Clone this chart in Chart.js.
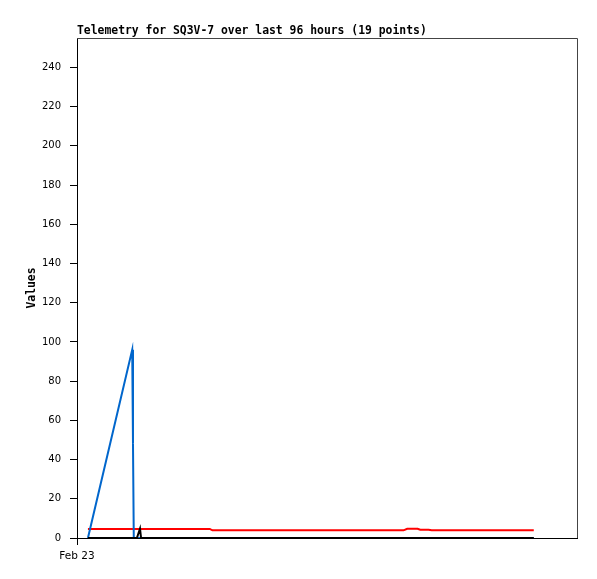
<!DOCTYPE html>
<html>
<head>
<meta charset="UTF-8">
<title>telemetry SQ3V-7</title>
<style>
	body {margin: 0; background: #fff;}
	#wrap {width: 597px; height: 579px;}
</style>
</head>
<body>
	<div id="wrap"><canvas id="myChart" width="597" height="579"></canvas></div>
<script src="https://cdn.jsdelivr.net/npm/chart.js@4"></script>
<script>
	// hours since Feb 23 00:00 (19 points)
	const hours = [2.1, 10.6, 10.75, 10.9, 11.5, 12.1, 12.3, 25.5, 26.0, 62.7, 63.4, 64.0, 65.4, 65.9, 67.5, 68.1, 80.0, 85.0, 87.7];
	const blueValues  = [0, 96, 48, 0, 0, 0, 0, 0, 0, 0, 0, 0, 0, 0, 0, 0, 0, 0, 0];
	const redValues   = [4.6, 4.6, 4.6, 4.6, 4.6, 4.6, 4.6, 4.6, 3.9, 3.9, 4.7, 4.7, 4.7, 4.2, 4.2, 3.9, 3.9, 3.9, 3.9];
	const blackValues = [0, 0, 0, 0, 0, 4.8, 0, 0, 0, 0, 0, 0, 0, 0, 0, 0, 0, 0, 0];
	const xTickLabels = ['Feb 23'];
	const yTicks = [0, 20, 40, 60, 80, 100, 120, 140, 160, 180, 200, 220, 240];
	const titleText = 'Telemetry for SQ3V-7 over last 96 hours (19 points)';

	function pts(vals) {
		return hours.map(function(h, i) { return {x: h, y: vals[i]}; });
	}

	// title + top/right frame
	const framePlugin = {
		id: 'frame',
		afterDraw: function(chart) {
			const a = chart.chartArea;
			const c = chart.ctx;
			c.save();
			c.strokeStyle = '#444';
			c.lineWidth = 1;
			c.beginPath();
			c.moveTo(a.left, a.top + 0.5);
			c.lineTo(a.right + 0.5, a.top + 0.5);
			c.lineTo(a.right + 0.5, a.bottom);
			c.stroke();
			c.fillStyle = '#000';
			c.font = 'bold 11.4px "DejaVu Sans Mono"';
			c.textBaseline = 'middle';
			c.textAlign = 'left';
			c.fillText(titleText, a.left, 31.5);
			c.restore();
		}
	};

	const ctx = document.getElementById('myChart');
	const chart = new Chart(ctx, {
		type: 'line',
		data: {
			datasets: [
				{data: pts(blackValues), borderColor: '#000000', borderWidth: 2},
				{data: pts(blueValues), borderColor: '#0066cc', borderWidth: 2},
				{data: pts(redValues), borderColor: '#ff0000', borderWidth: 2}
			]
		},
		options: {
			responsive: false,
			animation: false,
			events: [],
			layout: {padding: {top: 38, right: 20, left: 0, bottom: 0}},
			elements: {point: {radius: 0}, line: {tension: 0}},
			plugins: {legend: {display: false}, title: {display: false}, tooltip: {enabled: false}},
			scales: {
				x: {
					type: 'linear',
					min: 0,
					max: 96,
					afterBuildTicks: function(s) { s.ticks = [{value: 0}]; },
					afterFit: function(s) { s.height = 41; },
					ticks: {
						color: '#000',
						font: {family: '"DejaVu Sans"', size: 10.5},
						padding: 5,
						maxRotation: 0,
						callback: function(v, i) { return xTickLabels[i]; }
					},
					grid: {drawOnChartArea: false, drawTicks: true, tickLength: 7, tickColor: '#000'},
					border: {display: true, color: '#000', width: 1}
				},
				y: {
					min: 0,
					max: 255,
					afterBuildTicks: function(s) { s.ticks = yTicks.map(function(v) { return {value: v}; }); },
					afterFit: function(s) { s.width = 77; },
					ticks: {
						color: '#000',
						font: {family: '"DejaVu Sans"', size: 10},
						padding: 9
					},
					grid: {drawOnChartArea: false, drawTicks: true, tickLength: 7, tickColor: '#000'},
					border: {display: true, color: '#000', width: 1},
					title: {
						display: true,
						text: 'Values',
						color: '#000',
						font: {family: '"DejaVu Sans Mono"', size: 11.4, weight: 'bold'},
						padding: {top: 25, bottom: 0}
					}
				}
			}
		},
		plugins: [framePlugin]
	});
</script>
</body>
</html>
